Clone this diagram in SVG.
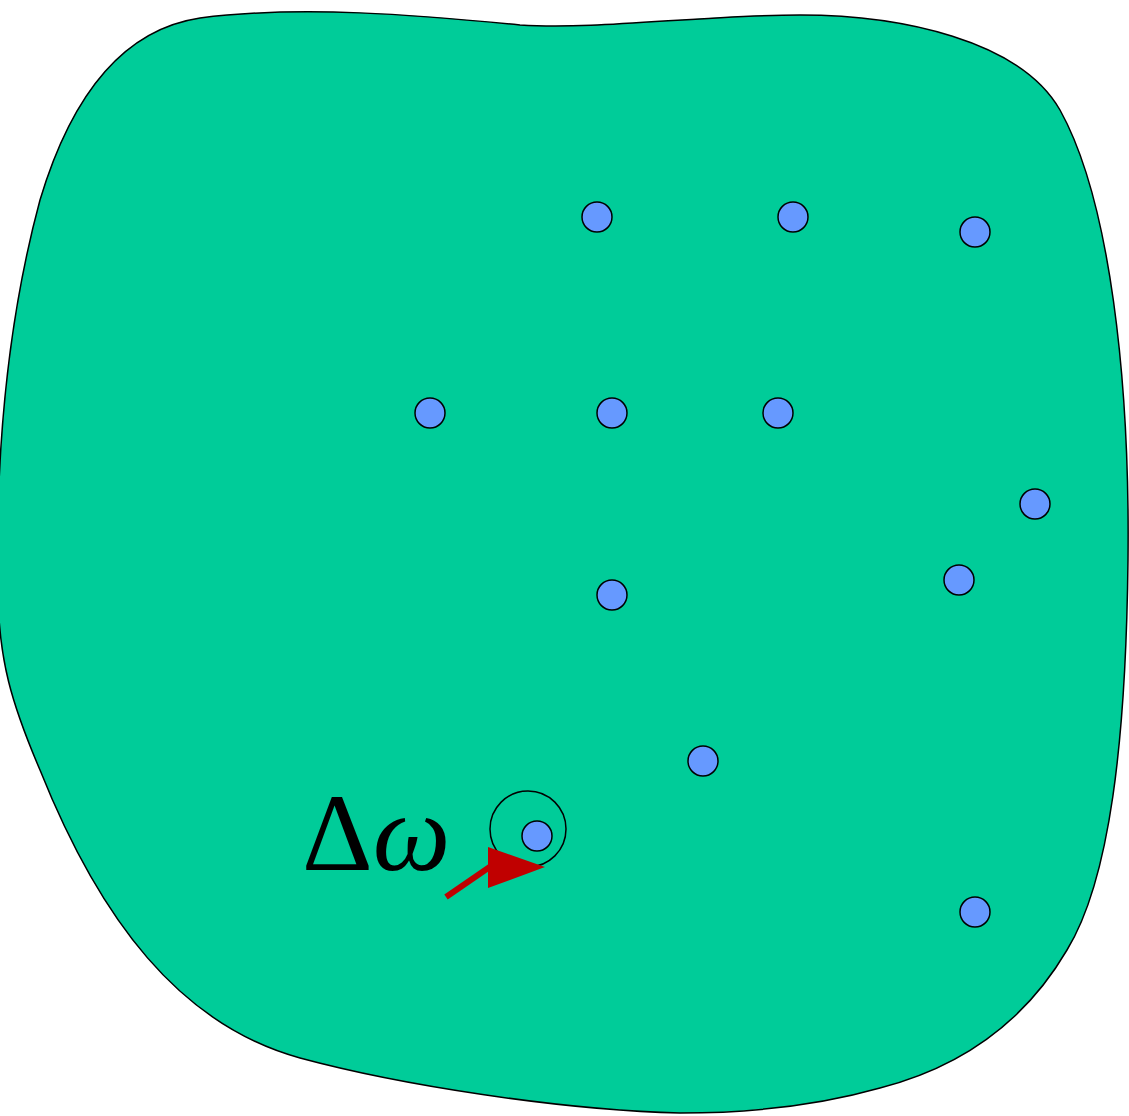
<svg xmlns="http://www.w3.org/2000/svg" width="1129" height="1116" viewBox="0 0 1129 1116">
<style>
.dot{fill:#6699ff;stroke:#000;stroke-width:1.5}
.lbl{font-family:"Liberation Serif","Times New Roman",serif;font-size:110px;fill:#000}
</style>
<rect width="1129" height="1116" fill="#fff"/>
<g id="region">
<path d="M520,25 C600,30 700,15 800,15 C900,15 1020,40 1060,110 C1110,200 1130,380 1128,560 C1126,740 1110,880 1067,950 C1020,1030 950,1070 880,1088 C820,1105 750,1113 680,1113 C560,1110 400,1085 300,1058 C180,1025 100,920 40,770 C10,700 0,660 -2,600 C-5,470 5,330 40,200 C70,100 120,30 200,18 C300,5 420,15 520,25 Z" fill="#00cc99" stroke="#000" stroke-width="1.5"/>
</g>
<g id="n1"><circle class="dot" cx="597" cy="217" r="15"/></g>
<g id="n2"><circle class="dot" cx="793" cy="217" r="15"/></g>
<g id="n3"><circle class="dot" cx="975" cy="232" r="15"/></g>
<g id="n4"><circle class="dot" cx="430" cy="413" r="15"/></g>
<g id="n5"><circle class="dot" cx="612" cy="413" r="15"/></g>
<g id="n6"><circle class="dot" cx="778" cy="413" r="15"/></g>
<g id="n7"><circle class="dot" cx="1035" cy="504" r="15"/></g>
<g id="n8"><circle class="dot" cx="959" cy="580" r="15"/></g>
<g id="n9"><circle class="dot" cx="612" cy="595" r="15"/></g>
<g id="n10"><circle class="dot" cx="703" cy="761" r="15"/></g>
<g id="n11"><circle cx="528" cy="829" r="38" fill="none" stroke="#000" stroke-width="1.5"/><circle class="dot" cx="537" cy="836" r="15"/></g>
<g id="n12"><circle class="dot" cx="975" cy="912" r="15"/></g>
<g id="label"><text class="lbl" x="302" y="870">Δ<tspan font-style="italic">ω</tspan></text></g>
<g id="connectors">
<line x1="446" y1="897" x2="494" y2="864" stroke="#c00000" stroke-width="6"/>
<polygon points="488,847 545,867 488,888" fill="#c00000"/>
</g>
</svg>
